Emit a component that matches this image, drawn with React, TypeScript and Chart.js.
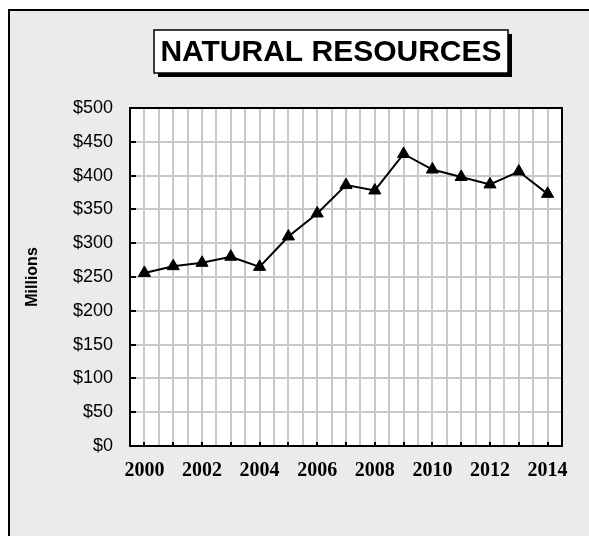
import React, { useEffect, useRef } from "react";
import { Chart, registerables } from "chart.js";

Chart.register(...registerables);

const years: number[] = [2000, 2001, 2002, 2003, 2004, 2005, 2006, 2007, 2008, 2009, 2010, 2011, 2012, 2013, 2014];
const values: number[] = [256, 266, 271, 280, 265, 310, 344, 386, 378, 432, 409, 398, 387, 406, 373];
const titleText = "NATURAL RESOURCES";
const yAxisTitle = "Millions";
const yMin = 0;
const yMax = 500;
const yStep = 50;

const W = 589;
const H = 536;

const decorPlugin = {
  id: "decor",
  beforeDraw(chart: any) {
    const { ctx, chartArea } = chart;
    ctx.save();
    ctx.fillStyle = "#ffffff";
    ctx.fillRect(0, 0, W, H);
    ctx.fillStyle = "#ebebeb";
    ctx.fillRect(9, 10, W, H);
    ctx.fillStyle = "#000000";
    ctx.fillRect(8, 9, 2, H);
    ctx.fillRect(8, 9, W, 2);
    ctx.fillStyle = "#ffffff";
    ctx.fillRect(chartArea.left, chartArea.top, chartArea.right - chartArea.left, chartArea.bottom - chartArea.top);
    ctx.restore();
  },
  beforeDatasetsDraw(chart: any) {
    const { ctx, chartArea, scales } = chart;
    const x = scales.x;
    const y = scales.y;
    ctx.save();
    ctx.strokeStyle = "#000000";
    ctx.lineWidth = 2;
    ctx.strokeRect(chartArea.left, chartArea.top, chartArea.right - chartArea.left, chartArea.bottom - chartArea.top);
    ctx.lineWidth = 2;
    ctx.beginPath();
    for (let v = yMin; v <= yMax; v += yStep) {
      const py = Math.round(y.getPixelForValue(v));
      ctx.moveTo(chartArea.left, py);
      ctx.lineTo(chartArea.left + 6, py);
    }
    for (const yr of years) {
      const px = Math.round(x.getPixelForValue(yr));
      ctx.moveTo(px, chartArea.bottom);
      ctx.lineTo(px, chartArea.bottom - 4);
    }
    ctx.stroke();
    ctx.restore();
  },
  afterDraw(chart: any) {
    const { ctx } = chart;
    ctx.save();
    const bx = 154, by = 30, bw = 354, bh = 43;
    ctx.fillStyle = "#000000";
    ctx.fillRect(bx + 4, by + 4, bw, bh);
    ctx.fillStyle = "#ffffff";
    ctx.fillRect(bx, by, bw, bh);
    ctx.strokeStyle = "#000000";
    ctx.lineWidth = 1.5;
    ctx.strokeRect(bx, by, bw, bh);
    ctx.fillStyle = "#000000";
    ctx.font = 'bold 30px "Liberation Sans", Arial, sans-serif';
    ctx.textAlign = "center";
    ctx.textBaseline = "middle";
    ctx.fillText(titleText, bx + bw / 2, by + bh / 2 + 1);
    ctx.restore();
  },
};

export default function App() {
  const ref = useRef<HTMLCanvasElement | null>(null);
  useEffect(() => {
    if (!ref.current) return;
    const chart = new Chart(ref.current, {
      type: "line",
      data: {
        datasets: [
          {
            data: years.map((yr, i) => ({ x: yr, y: values[i] })),
            borderColor: "#000000",
            borderWidth: 2,
            backgroundColor: "#000000",
            pointStyle: "triangle",
            pointRadius: 7,
            pointBorderWidth: 1,
            pointBackgroundColor: "#000000",
            pointBorderColor: "#000000",
            tension: 0,
          },
        ],
      },
      options: {
        responsive: false,
        animation: false,
        layout: { padding: { left: 0, right: 27, top: 108, bottom: 0 } },
        plugins: { legend: { display: false }, tooltip: { enabled: false }, title: { display: false } },
        scales: {
          x: {
            type: "linear",
            min: 1999.5,
            max: 2014.5,
            afterFit: (s: any) => { s.height = 90; },
            grid: { color: "#c8c8c8", lineWidth: 2, drawTicks: false },
            border: { display: false },
            ticks: {
              stepSize: 0.5,
              maxTicksLimit: 100,
              autoSkip: false,
              maxRotation: 0,
              minRotation: 0,
              padding: 13,
              color: "#000000",
              font: { family: '"Liberation Serif", "Times New Roman", serif', size: 20, weight: "bold" },
              callback: (v: any) => {
                const n = Number(v);
                return Math.abs(n - Math.round(n)) < 1e-6 && Math.round(n) % 2 === 0 ? String(Math.round(n)) : "";
              },
            },
          },
          y: {
            min: yMin,
            max: yMax,
            afterFit: (s: any) => { s.width = 130; },
            grid: { color: "#c8c8c8", lineWidth: 2, drawTicks: false },
            border: { display: false },
            title: {
              display: true,
              text: yAxisTitle,
              color: "#000000",
              font: { family: '"Liberation Sans", Arial, sans-serif', size: 16, weight: "bold" },
              padding: { top: 23, bottom: 0 },
            },
            ticks: {
              stepSize: yStep,
              padding: 17,
              color: "#000000",
              font: { family: '"Liberation Sans", Arial, sans-serif', size: 18 },
              callback: (v: any) => "$" + v,
            },
          },
        },
      },
      plugins: [decorPlugin],
    });
    return () => chart.destroy();
  }, []);
  return (
    <div style={{ position: "absolute", left: 0, top: 0, width: W, height: H }}>
      <canvas ref={ref} width={W} height={H} />
    </div>
  );
}
